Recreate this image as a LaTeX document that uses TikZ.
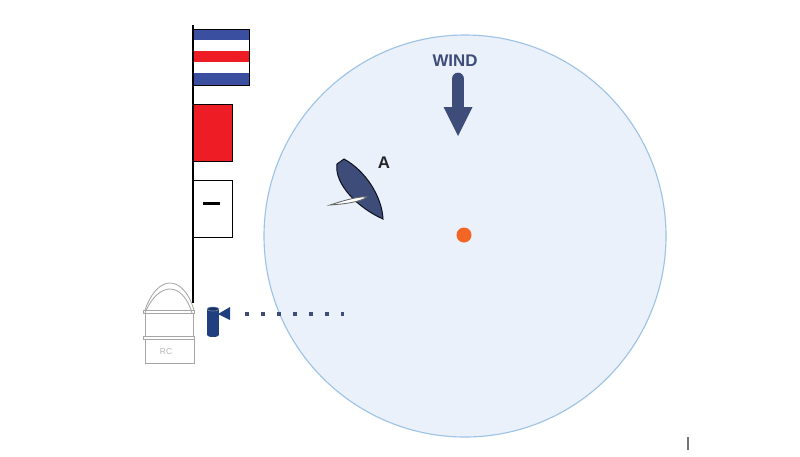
\documentclass[tikz,border=0pt]{standalone}
\usepackage{fontspec}
\setmainfont{Liberation Sans}
\begin{document}
\begin{tikzpicture}[x=0.025cm,y=-0.025cm,
  flagbox/.style={draw=black,line width=0.6pt,inner sep=0,outer sep=0,anchor=north west},
  rcline/.style={draw=black!35,line width=0.6pt},
  navy/.style={fill=navyc,draw=navyc}]
\definecolor{navyc}{HTML}{3E4C7A}
\definecolor{flagblue}{HTML}{3A4FA0}
\definecolor{flagred}{HTML}{EE1C25}
\definecolor{circfill}{HTML}{EAF1FA}
\definecolor{circline}{HTML}{9DC3E6}
\definecolor{orangec}{HTML}{F26522}
\definecolor{pinblue}{HTML}{1F3F7F}
\useasboundingbox (0,0) rectangle (800,456);
% course circle
\node[circle,minimum size=402*0.025cm,fill=circfill,draw=circline,line width=0.8pt] (course) at (465,236) {};
% wind
\node[font=\bfseries\fontsize{12}{14}\selectfont,text=navyc] (wind) at (455,61) {WIND};
\coordinate (wtop) at (458,79);
\coordinate (wbase) at (458,108);
\draw[navyc,line width=9pt,line cap=round] (wtop) -- (wbase);
\fill[navyc] (443.5,107) -- (472.5,107) -- (458,136) -- cycle;
% mark
\node[circle,fill=orangec,minimum size=15*0.025cm,inner sep=0] (mark) at (464,235) {};
% pole
\coordinate (poletop) at (193,25);
\coordinate (polebot) at (193,303);
\draw[black,line width=1.6pt] (poletop) -- (polebot);
% flag C
\fill[flagblue] (193,29) rectangle (249,40);
\fill[white] (193,40) rectangle (249,51);
\fill[flagred] (193,51) rectangle (249,62);
\fill[white] (193,62) rectangle (249,73);
\fill[flagblue] (193,73) rectangle (249,85);
\node[flagbox,minimum width=56*0.025cm,minimum height=56*0.025cm] (flagC) at (193,29) {};
% red flag
\node[flagbox,fill=flagred,minimum width=39*0.025cm,minimum height=57*0.025cm] (flagR) at (193,104) {};
% white flag with dash
\node[flagbox,fill=white,minimum width=39*0.025cm,minimum height=57*0.025cm] (flagW) at (193,180) {};
\draw[black,line width=2.2pt] (203,203.5) -- (220,203.5);
% committee boat
\draw[rcline] (145,310) .. controls (152,290) and (162,283) .. (170,283) .. controls (178,283) and (188,290) .. (194,310);
\draw[rcline] (145,313) .. controls (152,296) and (162,289) .. (170,289) .. controls (178,289) and (187,296) .. (192,313);
\draw[rcline] (143,310) rectangle (194,313);
\draw[rcline] (145,313) -- (145,336) (193,313) -- (193,336);
\draw[rcline] (143,336) rectangle (194,339);
\draw[rcline] (145,339) -- (145,363) -- (194,363) -- (194,339);
\node[text=black!30,font=\fontsize{6}{7}\selectfont,inner sep=0] (rc) at (166,352) {RC};
% pin flag
\fill[pinblue] (207,309) rectangle (219,335);
\fill[pinblue] (213,335) ellipse (6 and 2);
\draw[pinblue!60!white,line width=0.4pt,fill=pinblue!80!black] (213,309) ellipse (6 and 2);
\fill[pinblue] (218,314) -- (230,307) -- (230,320) -- cycle;
\coordinate (dotstart) at (245,314);
\coordinate (dotend) at (344,314);
\draw[navyc,line width=2.9pt,dash pattern=on 2.9pt off 8.5pt] (dotstart) -- (dotend);
% boat A
\draw[fill=navyc,draw=black!80!navyc,line width=0.7pt]
  (337,164) -- (344,159) .. controls (366,171) and (382,197) .. (383,219)
  .. controls (358,208) and (334,184) .. cycle;
\draw[fill=white,draw=black!60,line width=0.6pt]
  (330,205) .. controls (345,200) and (360,196) .. (367,197)
  .. controls (360,202) and (345,204) .. cycle;
\node[font=\bfseries\fontsize{12}{14}\selectfont,text=black!85] (boatA) at (384,163) {A};
% small tick
\draw[black!55,line width=0.8pt] (688,437) -- (688,450);
\end{tikzpicture}
\end{document}
